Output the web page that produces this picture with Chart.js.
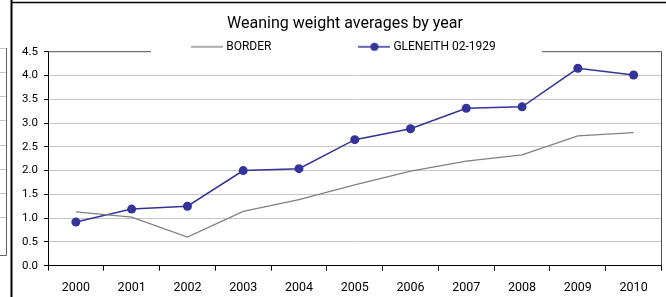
<!DOCTYPE html>
<html>
<head>
<meta charset="utf-8">
<script src="https://cdn.jsdelivr.net/npm/chart.js@4.4.1/dist/chart.umd.min.js"></script>
<style>
  html, body { margin: 0; padding: 0; background: #ffffff; }
  #wrap { width: 666px; height: 297px; position: relative; }
  canvas { display: block; }
</style>
</head>
<body>
<div id="wrap"><canvas id="c" width="666" height="297"></canvas></div>
<script>
// ---- data ----
const chartTitle = "Weaning weight averages by year";
const years = ["2000", "2001", "2002", "2003", "2004", "2005", "2006", "2007", "2008", "2009", "2010"];
const borderLabel = "BORDER";
const borderValues = [1.13, 1.02, 0.60, 1.14, 1.39, 1.70, 1.99, 2.20, 2.33, 2.73, 2.80];
const gleneithLabel = "GLENEITH 02-1929";
const gleneithValues = [0.92, 1.19, 1.25, 2.00, 2.04, 2.65, 2.88, 3.31, 3.34, 4.15, 4.01];
const yTicks = [0, 0.5, 1.0, 1.5, 2.0, 2.5, 3.0, 3.5, 4.0, 4.5];

const FONT = "Roboto, 'Liberation Sans', Arial, sans-serif";

const blue = '#333399';
const gray = '#808080';
const legendPad = 90;

function makeIcon(color, lw, marker) {
  const cv = document.createElement('canvas');
  cv.width = 32; cv.height = 10;
  const g = cv.getContext('2d');
  g.strokeStyle = color; g.lineWidth = lw;
  g.beginPath(); g.moveTo(0, 5); g.lineTo(32, 5); g.stroke();
  if (marker) {
    g.fillStyle = color;
    g.beginPath(); g.arc(16, 5, 4, 0, Math.PI * 2); g.fill();
  }
  return cv;
}

// decorative page frame + plot-area border
const framePlugin = {
  id: 'frame',
  beforeDraw(chart) {
    const ctx = chart.ctx;
    ctx.save();
    ctx.strokeStyle = '#c4c4c4';
    ctx.lineWidth = 1;
    [48.5, 72.5, 96.5, 120.5, 145.5, 169.5, 193.5, 217.5].forEach(y => {
      ctx.beginPath(); ctx.moveTo(0, y); ctx.lineTo(6, y); ctx.stroke();
    });
    ctx.strokeStyle = '#606060';
    ctx.beginPath(); ctx.moveTo(6.5, 48); ctx.lineTo(6.5, 255.5); ctx.lineTo(0, 255.5); ctx.stroke();
    ctx.strokeStyle = '#000';
    ctx.lineWidth = 2;
    ctx.beginPath(); ctx.moveTo(11.5, 0); ctx.lineTo(11.5, 297); ctx.stroke();
    ctx.lineWidth = 1.5;
    ctx.beginPath(); ctx.moveTo(11, 2.5); ctx.lineTo(666, 2.5); ctx.stroke();
    ctx.restore();
  },
  afterDraw(chart) {
    const {ctx, chartArea: a} = chart;
    ctx.save();
    ctx.strokeStyle = '#505050';
    ctx.lineWidth = 1;
    ctx.beginPath();
    ctx.moveTo(a.left, a.top); ctx.lineTo(151, a.top);
    ctx.moveTo(542, a.top); ctx.lineTo(a.right, a.top); ctx.lineTo(a.right, a.bottom);
    ctx.stroke();
    ctx.restore();
  }
};

const ctx = document.getElementById('c').getContext('2d');
new Chart(ctx, {
  type: 'line',
  data: {
    labels: years,
    datasets: [
      {
        label: borderLabel,
        data: borderValues,
        borderColor: gray,
        backgroundColor: gray,
        borderWidth: 1.3,
        pointRadius: 0,
        pointHoverRadius: 0,
        tension: 0,
        fill: false,
        yAxisID: 'y'
      },
      {
        label: gleneithLabel,
        data: gleneithValues,
        borderColor: blue,
        backgroundColor: blue,
        borderWidth: 1.5,
        pointRadius: 4.5,
        pointBackgroundColor: blue,
        pointBorderColor: blue,
        pointBorderWidth: 0,
        tension: 0,
        fill: false,
        yAxisID: 'y'
      }
    ]
  },
  options: {
    responsive: false,
    animation: false,
    layout: { padding: { left: 19, right: -5, top: 0, bottom: 0 } },
    plugins: {
      title: {
        display: true,
        text: chartTitle,
        color: '#000',
        font: { family: FONT, size: 16, weight: 'normal', lineHeight: 1.2 },
        padding: { top: 14.6, bottom: 6.2 }
      },
      legend: {
        display: true,
        position: 'top',
        align: 'center',
        maxHeight: 11.7,
        title: { display: true, text: '', font: { size: 10, lineHeight: 1 }, padding: { top: 0.8 - legendPad - 10, bottom: 0 } },
        labels: {
          usePointStyle: true,
          pointStyleWidth: 26,
          padding: legendPad,
          color: '#000',
          font: { family: FONT, size: 12 },
          generateLabels(chart) {
            return chart.data.datasets.map((ds, i) => ({
              text: ds.label,
              datasetIndex: i,
              hidden: false,
              fontColor: '#000',
              lineWidth: 0,
              fillStyle: ds.borderColor,
              strokeStyle: ds.borderColor,
              pointStyle: makeIcon(ds.borderColor, ds.borderWidth, ds.pointRadius > 0)
            }));
          }
        }
      },
      tooltip: { enabled: false }
    },
    scales: {
      x: {
        type: 'category',
        offset: true,
        afterFit(scale) { scale.height = 31.3; },
        grid: { display: true, offset: true, drawOnChartArea: false, drawTicks: true, tickLength: 5, tickColor: '#000', tickWidth: 1 },
        border: { display: true, color: '#000', width: 1 },
        ticks: { color: '#000', font: { family: FONT, size: 12.5 }, padding: 10, maxRotation: 0, autoSkip: false }
      },
      y: {
        position: 'left',
        min: 0,
        max: 4.5,
        afterFit(scale) { scale.width = 29; },
        afterBuildTicks(scale) { scale.ticks = yTicks.map(v => ({ value: v })); },
        grid: {
          color: (c) => (c.tick && c.tick.value === 4.5) ? 'rgba(0,0,0,0)' : '#c6c6c6',
          lineWidth: 1,
          drawTicks: true,
          tickLength: 4,
          tickColor: '#000'
        },
        border: { display: true, color: '#000', width: 1 },
        ticks: {
          color: '#000',
          font: { family: FONT, size: 11.5 },
          padding: 6,
          callback: (v) => Number(v).toFixed(1)
        }
      },
      yR: {
        type: 'linear',
        position: 'right',
        min: 0,
        max: 1,
        afterFit(scale) { scale.width = 9.4; },
        grid: { display: false, drawOnChartArea: false, drawTicks: false },
        border: { display: false },
        ticks: { display: false }
      }
    }
  },
  plugins: [framePlugin]
});
</script>
</body>
</html>
